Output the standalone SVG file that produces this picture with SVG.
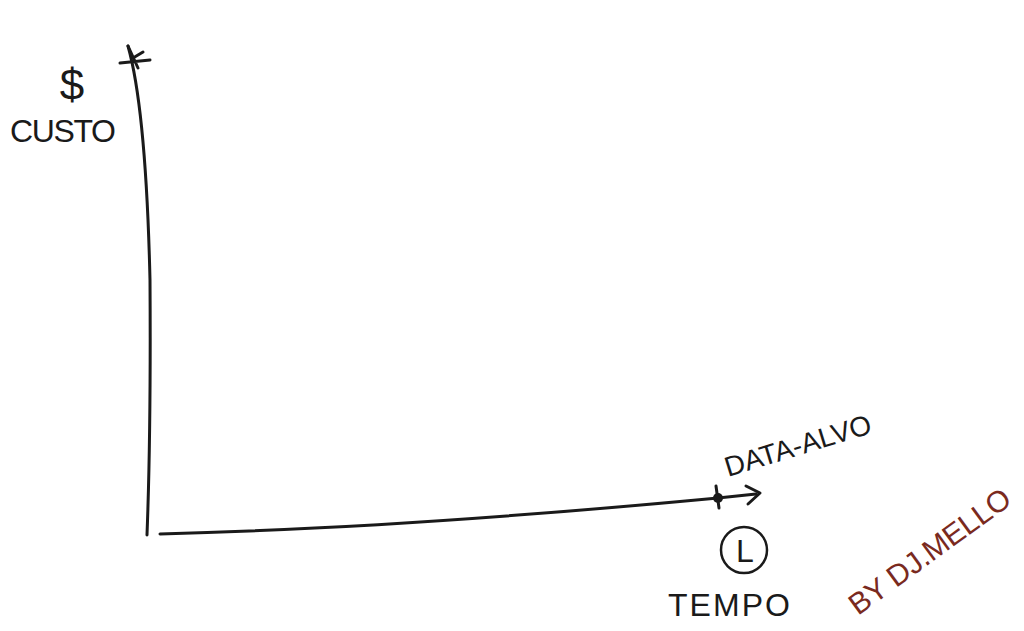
<svg xmlns="http://www.w3.org/2000/svg" width="1024" height="631" viewBox="0 0 1024 631">
<style>
.ink{fill:none;stroke:#1a1a1a;stroke-width:3;stroke-linecap:round;stroke-linejoin:round}
.t{font-family:"Liberation Sans","DejaVu Sans",sans-serif;fill:#1a1a1a}
</style>
<rect width="1024" height="631" fill="#ffffff"/>
<g id="connectors">
  <path class="ink" d="M128 46 Q146 110 150 280 Q151 430 147 535"/>
  <path class="ink" d="M120 63 L150 60 M128 46 L138 68 M133 58 L143 52"/>
  <path class="ink" d="M160 534 Q400 528 718 498 L756 494"/>
  <path class="ink" d="M746 486 L760 493 L748 504"/>
  <circle cx="718" cy="498" r="5" fill="#1a1a1a"/>
  <path class="ink" d="M716 486 L719 508"/>
</g>
<g id="y-label">
  <text class="t" x="72" y="100" font-size="44" text-anchor="middle">$</text>
  <text class="t" x="10" y="142" font-size="32" textLength="106">CUSTO</text>
</g>
<g id="target-date">
  <text class="t" x="728" y="477" font-size="28" transform="rotate(-17 728 477)" textLength="152">DATA-ALVO</text>
</g>
<g id="time-label">
  <circle cx="744" cy="550" r="23" fill="none" stroke="#1a1a1a" stroke-width="2.5"/>
  <text class="t" x="745" y="562" font-size="32" text-anchor="middle">L</text>
  <text class="t" x="668" y="616" font-size="32" textLength="122">TEMPO</text>
</g>
<g id="signature">
  <text x="858" y="616" font-size="30" fill="#7a2a1e" font-family="Liberation Sans,sans-serif" transform="rotate(-36 858 616)" textLength="192">BY DJ.MELLO</text>
</g>
</svg>
